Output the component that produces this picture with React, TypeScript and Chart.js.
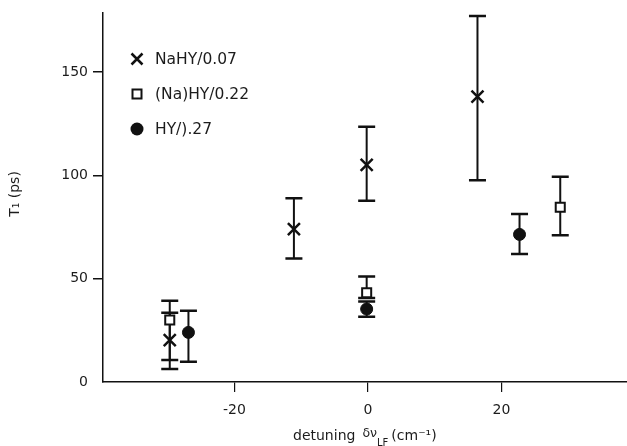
import React, { useEffect, useRef } from 'react';
import { Chart, registerables } from 'chart.js';

Chart.register(...registerables);

const seriesLabels = ['NaHY/0.07', '(Na)HY/0.22', 'HY/).27'];

const naX = [-29.7, -11.1, -0.2, 16.4];
const naY = [20.3, 74, 105, 138];
const naLow = [6.3, 59.8, 87.7, 97.6];
const naHigh = [33.5, 88.9, 123.5, 177];

const naPartX = [-29.7, -0.2, 28.8];
const naPartY = [30, 43.2, 84.5];
const naPartLow = [10.6, 40.6, 71];
const naPartHigh = [39.3, 51, 99.3];

const hyX = [-26.9, -0.2, 22.7];
const hyY = [24, 35.3, 71.4];
const hyLow = [9.8, 31.6, 61.9];
const hyHigh = [34.5, 39, 81.3];

const xTicks = [-20, 0, 20];
const yTicks = [0, 50, 100, 150];

const FONT = 'DejaVu Sans';
const INK = '#111';
const TEXT = '#1c1c1c';

const errorSets = [
  { x: naX, low: naLow, high: naHigh },
  { x: naPartX, low: naPartLow, high: naPartHigh },
  { x: hyX, low: hyLow, high: hyHigh },
];

const errorBarPlugin = {
  id: 'errorBars',
  beforeDatasetsDraw(chart: any) {
    const { ctx, scales } = chart;
    const xs = scales.x;
    const ys = scales.y;
    ctx.save();
    ctx.strokeStyle = INK;
    errorSets.forEach((set) => {
      set.x.forEach((xv, i) => {
        const px = xs.getPixelForValue(xv);
        const pl = ys.getPixelForValue(set.low[i]);
        const ph = ys.getPixelForValue(set.high[i]);
        ctx.lineWidth = 2;
        ctx.beginPath();
        ctx.moveTo(px, pl);
        ctx.lineTo(px, ph);
        ctx.stroke();
        ctx.lineWidth = 2.5;
        ctx.beginPath();
        ctx.moveTo(px - 8.5, pl);
        ctx.lineTo(px + 8.5, pl);
        ctx.moveTo(px - 8.5, ph);
        ctx.lineTo(px + 8.5, ph);
        ctx.stroke();
      });
    });
    ctx.restore();
  },
};

const legendPlugin = {
  id: 'insideLegend',
  afterDraw(chart: any) {
    const { ctx, chartArea } = chart;
    const mx = chartArea.left + 34;
    const tx = chartArea.left + 52;
    const y0 = chartArea.top + 46;
    const step = 35;
    ctx.save();
    ctx.strokeStyle = INK;
    ctx.fillStyle = INK;
    let y = y0;
    ctx.lineWidth = 2.5;
    ctx.beginPath();
    ctx.moveTo(mx - 5.5, y - 5.5);
    ctx.lineTo(mx + 5.5, y + 5.5);
    ctx.moveTo(mx + 5.5, y - 5.5);
    ctx.lineTo(mx - 5.5, y + 5.5);
    ctx.stroke();
    y = y0 + step;
    ctx.lineWidth = 2;
    ctx.strokeRect(mx - 4.5, y - 4.5, 9, 9);
    y = y0 + 2 * step;
    ctx.beginPath();
    ctx.arc(mx, y, 6.5, 0, Math.PI * 2);
    ctx.fill();
    ctx.fillStyle = TEXT;
    ctx.font = `15.5px "${FONT}"`;
    ctx.textBaseline = 'middle';
    ctx.textAlign = 'left';
    seriesLabels.forEach((lab, i) => {
      ctx.fillText(lab, tx, y0 + i * step + 1);
    });
    ctx.restore();
  },
};

const titlePlugin = {
  id: 'axisTitles',
  afterDraw(chart: any) {
    const { ctx, chartArea } = chart;
    ctx.save();
    ctx.fillStyle = TEXT;
    ctx.textAlign = 'left';
    ctx.textBaseline = 'alphabetic';
    let x = chartArea.left + 190;
    ctx.font = `14px "${FONT}"`;
    ctx.fillText('detuning', x, 440);
    x += ctx.measureText('detuning').width + 7;
    ctx.font = `12.5px "${FONT}"`;
    ctx.fillText('δν', x, 437);
    x += ctx.measureText('δν').width;
    ctx.font = `10px "${FONT}"`;
    ctx.fillText('LF', x, 446);
    x += ctx.measureText('LF').width + 3;
    ctx.font = `14px "${FONT}"`;
    ctx.fillText('(cm⁻¹)', x, 440);
    ctx.translate(15, 194);
    ctx.rotate(-Math.PI / 2);
    ctx.textAlign = 'center';
    ctx.textBaseline = 'middle';
    ctx.font = `14px "${FONT}"`;
    ctx.fillText('T₁ (ps)', 0, 0);
    ctx.restore();
  },
};

export default function App() {
  const ref = useRef<HTMLCanvasElement>(null);

  useEffect(() => {
    if (!ref.current) return;
    const pts = (xs: number[], ys: number[]) => xs.map((v, i) => ({ x: v, y: ys[i] }));
    const chart = new Chart(ref.current, {
      type: 'scatter',
      data: {
        datasets: [
          {
            label: seriesLabels[0],
            data: pts(naX, naY),
            pointStyle: 'crossRot',
            pointRadius: 8.5,
            borderWidth: 2.5,
            borderColor: INK,
            backgroundColor: INK,
            clip: false,
          },
          {
            label: seriesLabels[1],
            data: pts(naPartX, naPartY),
            pointStyle: 'rect',
            pointRadius: 6.4,
            borderWidth: 2,
            borderColor: INK,
            backgroundColor: '#fff',
            clip: false,
          },
          {
            label: seriesLabels[2],
            data: pts(hyX, hyY),
            pointStyle: 'circle',
            pointRadius: 6,
            borderWidth: 1,
            borderColor: INK,
            backgroundColor: INK,
            clip: false,
          },
        ] as any,
      },
      options: {
        animation: false,
        responsive: false,
        layout: { padding: { top: 13, right: 0, bottom: 0, left: 0 }, autoPadding: false },
        plugins: {
          legend: { display: false },
          tooltip: { enabled: false },
          title: { display: false },
        },
        scales: {
          x: {
            type: 'linear',
            min: -39.7,
            max: 38.8,
            afterBuildTicks: (s: any) => {
              s.ticks = xTicks.map((v) => ({ value: v }));
            },
            afterFit: (s: any) => {
              s.height = 64;
              s.paddingLeft = 0;
              s.paddingRight = 0;
            },
            grid: {
              display: true,
              drawOnChartArea: false,
              drawTicks: true,
              tickLength: 10,
              color: INK,
              lineWidth: 1.2,
            },
            border: { display: true, color: INK, width: 1.5 },
            ticks: {
              color: TEXT,
              font: { family: FONT, size: 14 },
              padding: 10,
              maxRotation: 0,
              callback: (v: any) => String(v),
            },
          },
          y: {
            type: 'linear',
            min: 0,
            max: 178.5,
            afterBuildTicks: (s: any) => {
              s.ticks = yTicks.map((v) => ({ value: v }));
            },
            afterFit: (s: any) => {
              s.width = 103;
              s.paddingTop = 0;
              s.paddingBottom = 0;
            },
            grid: {
              display: true,
              drawOnChartArea: false,
              drawTicks: true,
              tickLength: 10,
              color: (c: any) => (c.tick && c.tick.value === 0 ? 'rgba(0,0,0,0)' : INK),
              lineWidth: 1.5,
            },
            border: { display: true, color: INK, width: 1.5 },
            ticks: {
              color: TEXT,
              font: { family: FONT, size: 14 },
              padding: 5,
              callback: (v: any) => String(v),
            },
          },
        },
      } as any,
      plugins: [errorBarPlugin, legendPlugin, titlePlugin],
    });
    return () => chart.destroy();
  }, []);

  return (
    <div style={{ position: 'fixed', left: 0, top: 0, width: 627, height: 446, background: '#fff' }}>
      <canvas ref={ref} width={627} height={446} />
    </div>
  );
}
